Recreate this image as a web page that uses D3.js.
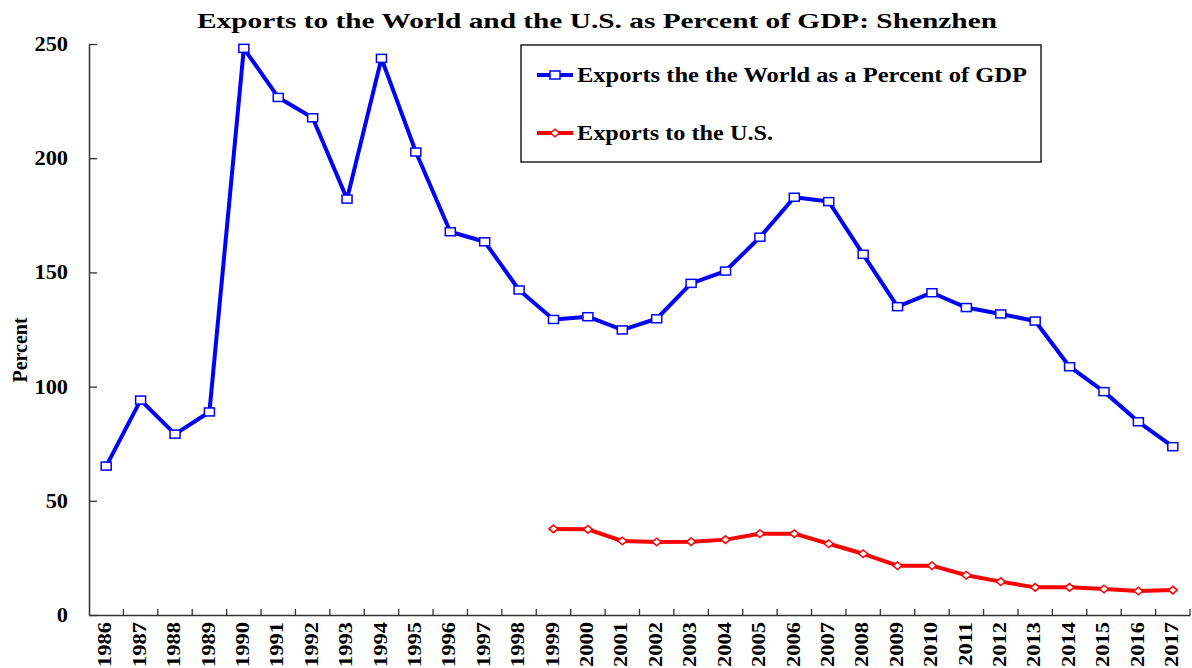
<!DOCTYPE html>
<html>
<head>
<meta charset="utf-8">
<script src="https://cdnjs.cloudflare.com/ajax/libs/d3/7.8.5/d3.min.js"></script>
<style>
  body { margin: 0; background: #fff; }
  svg { display: block; }
  text { font-family: "Liberation Serif", "Times New Roman", Times, serif; font-weight: bold; fill: #000; }
</style>
</head>
<body>
<svg id="chart"></svg>
<script>
var years = ["1986","1987","1988","1989","1990","1991","1992","1993","1994","1995","1996",
             "1997","1998","1999","2000","2001","2002","2003","2004","2005","2006","2007",
             "2008","2009","2010","2011","2012","2013","2014","2015","2016","2017"];

var worldValues = [65.2, 94.1, 79.2, 88.9, 248.1, 226.6, 217.7, 182.1, 243.7, 202.7, 167.8,
                   163.4, 142.3, 129.4, 130.6, 124.8, 129.7, 145.2, 150.6, 165.4, 182.9, 181.0,
                   157.9, 135.0, 141.1, 134.6, 131.8, 128.7, 108.7, 97.8, 84.6, 73.7];

var usYears = ["1999","2000","2001","2002","2003","2004","2005","2006","2007","2008",
               "2009","2010","2011","2012","2013","2014","2015","2016","2017"];
var usValues = [37.7, 37.5, 32.4, 32.0, 32.1, 33.0, 35.6, 35.6, 31.2, 26.8,
                21.6, 21.6, 17.4, 14.6, 12.1, 12.1, 11.4, 10.5, 10.9];

var yTicks = [0, 50, 100, 150, 200, 250];

var seriesNames = ["Exports the the World as a Percent of GDP", "Exports to the U.S."];

var width = 1192, height = 668;
var svg = d3.select("#chart").attr("width", width).attr("height", height);

var xScale = d3.scaleBand().domain(years).range([89, 1190]).padding(0),
    yScale = d3.scaleLinear().domain([0, 250]).range([615, 44]);
var bw = xScale.bandwidth();
function cx(yr) { return xScale(yr) + bw / 2; }

// title
svg.append("text")
  .attr("x", 597).attr("y", 28)
  .attr("text-anchor", "middle")
  .style("font-size", "21px")
  .attr("textLength", 800).attr("lengthAdjust", "spacingAndGlyphs")
  .text("Exports to the World and the U.S. as Percent of GDP: Shenzhen");

// y axis
var yAxis = d3.axisLeft(yScale).tickValues(yTicks).tickSize(-8).tickSizeOuter(0).tickPadding(21);
var gy = svg.append("g").attr("transform", "translate(89,0)").call(yAxis);
gy.select(".domain").attr("stroke", "#333").attr("stroke-width", 1.5);
gy.selectAll(".tick line").attr("stroke", "#333").attr("stroke-width", 1.3);
gy.selectAll(".tick text")
  .attr("font-family", null).attr("font-size", null)
  .style("font-size", "20px")
  .attr("transform", function() { return "translate(" + d3.select(this).attr("x") + ",0) scale(1.12,1) translate(" + (-d3.select(this).attr("x")) + ",0)"; });

svg.append("text")
  .attr("transform", "translate(27,350) rotate(-90)")
  .attr("text-anchor", "middle")
  .style("font-size", "20px")
  .text("Percent");

// x axis
var xAxis = d3.axisBottom(xScale).tickSize(0).tickSizeOuter(0).tickPadding(0);
var gx = svg.append("g").attr("transform", "translate(0,615)").call(xAxis);
gx.select(".domain").attr("stroke", "#333").attr("stroke-width", 1.5);
gx.selectAll(".tick text")
  .attr("font-family", null).attr("font-size", null)
  .style("font-size", "18px")
  .attr("y", 0).attr("dy", null)
  .attr("text-anchor", "end")
  .attr("transform", "translate(-1,7) rotate(-90) scale(1.25,1)")
  .attr("dominant-baseline", "central");

// tick marks at band boundaries
svg.append("g").selectAll("line")
  .data(years.slice(1).concat(["end"])).enter()
  .append("line")
    .attr("x1", function(d) { return d === "end" ? xScale.range()[1] : xScale(d); })
    .attr("x2", function(d) { return d === "end" ? xScale.range()[1] : xScale(d); })
    .attr("y1", 615).attr("y2", 609)
    .attr("stroke", "#333").attr("stroke-width", 1.3);

// lines
var worldLine = d3.line()
  .x(function(d, i) { return cx(years[i]); })
  .y(function(d) { return yScale(d); });
var usLine = d3.line()
  .x(function(d, i) { return cx(usYears[i]); })
  .y(function(d) { return yScale(d); });

svg.append("path").datum(worldValues)
  .attr("d", worldLine).attr("fill", "none")
  .attr("stroke", "#0000ff").attr("stroke-width", 4).attr("stroke-linejoin", "round");

svg.append("path").datum(usValues)
  .attr("d", usLine).attr("fill", "none")
  .attr("stroke", "#ff0000").attr("stroke-width", 4).attr("stroke-linejoin", "round");

function square(g, x, y) {
  g.append("rect")
    .attr("x", x - 5).attr("y", y - 4).attr("width", 10).attr("height", 8)
    .attr("fill", "#fff").attr("stroke", "#0000ff").attr("stroke-width", 1.5);
}
function diamond(g, x, y) {
  g.append("path")
    .attr("d", "M" + (x - 4.5) + "," + y + "L" + x + "," + (y - 3.8) + "L" + (x + 4.5) + "," + y + "L" + x + "," + (y + 3.8) + "Z")
    .attr("fill", "#fff").attr("stroke", "#ff0000").attr("stroke-width", 1.5);
}

var markers = svg.append("g");
worldValues.forEach(function(v, i) { square(markers, cx(years[i]), yScale(v)); });
usValues.forEach(function(v, i) { diamond(markers, cx(usYears[i]), yScale(v)); });

// legend
var legend = svg.append("g");
legend.append("rect")
  .attr("x", 521).attr("y", 45).attr("width", 520).attr("height", 117)
  .attr("fill", "#fff").attr("stroke", "#222").attr("stroke-width", 1.5);

var legendRows = [
  {name: seriesNames[0], color: "#0000ff", y: 75, len: 450, mark: square},
  {name: seriesNames[1], color: "#ff0000", y: 133, len: 196, mark: diamond}
];
legendRows.forEach(function(r) {
  legend.append("line")
    .attr("x1", 537).attr("x2", 573).attr("y1", r.y).attr("y2", r.y)
    .attr("stroke", r.color).attr("stroke-width", 4);
  r.mark(legend, 555, r.y);
  legend.append("text")
    .attr("x", 577).attr("y", r.y + 7)
    .style("font-size", "20px")
    .attr("textLength", r.len).attr("lengthAdjust", "spacingAndGlyphs")
    .text(r.name);
});
</script>
</body>
</html>
